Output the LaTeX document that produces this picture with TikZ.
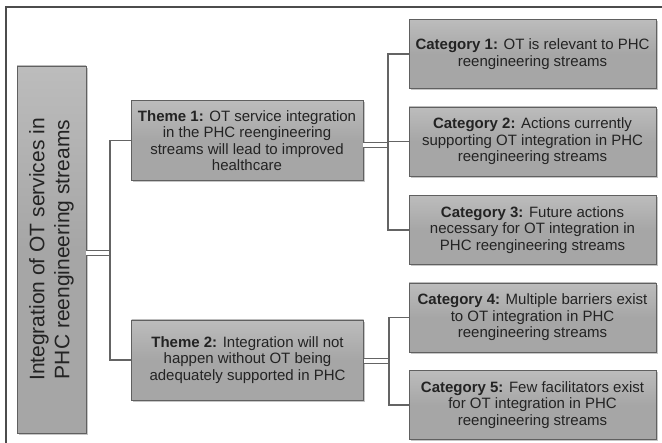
\documentclass[tikz,border=0pt]{standalone}
\usepackage{fontspec}
\setmainfont{Liberation Sans}
\usetikzlibrary{shadows}
\definecolor{boxgray}{RGB}{166,166,166}
\definecolor{linegray}{RGB}{100,100,100}
\definecolor{txtgray}{RGB}{35,35,35}

\begin{document}
\begin{tikzpicture}[x=1pt, y=-1pt, thick,
	box node/.style={draw=gray!75!black, line width=0.6pt, top color=boxgray!75, bottom color=boxgray, middle color=boxgray,
		drop shadow={shadow xshift=1.5pt, shadow yshift=-2pt, opacity=.45},
		text=txtgray, align=center, inner sep=2pt},
	main node/.style={box node, rotate=90, minimum width=367pt, minimum height=69pt,
		font=\fontsize{21}{25}\selectfont},
	theme node/.style={box node, minimum width=232pt, minimum height=80pt,
		font=\fontsize{15}{16.5}\selectfont},
	cat node/.style={box node, minimum width=247pt, minimum height=69pt,
		font=\fontsize{15}{16.5}\selectfont},
	link/.style={draw=linegray, line width=1.6pt},
	twin/.style={draw=linegray, line width=1.2pt, double=white, double distance=4pt}]
	
	\useasboundingbox (0,0) rectangle (662,443);
	% frame
	\draw[draw=gray!60!black, line width=1.4pt] (6,443) -- (6,7) -- (662,7);
	
	\node[main node] (1) at (51.5,249.5) {Integration of OT services in\\PHC reengineering streams};
	
	\node[theme node] (2) at (247,140.5) {\textbf{Theme 1:} OT service integration\\in the PHC reengineering\\streams will lead to improved\\healthcare};
	\node[theme node] (3) at (247.5,360) {\textbf{Theme 2:} Integration will not\\happen without OT being\\adequately supported in PHC};
	
	\node[cat node] (4) at (532.5,54) {\textbf{Category 1:} OT is relevant to PHC\\reengineering streams};
	\node[cat node] (5) at (532.5,141.5) {\textbf{Category 2:} Actions currently\\supporting OT integration in PHC\\reengineering streams};
	\node[cat node] (6) at (532.5,230) {\textbf{Category 3:} Future actions\\necessary for OT integration in\\PHC reengineering streams};
	\node[cat node] (7) at (532.5,317.5) {\textbf{Category 4:} Multiple barriers exist\\to OT integration in PHC\\reengineering streams};
	\node[cat node] (8) at (532.5,405) {\textbf{Category 5:} Few facilitators exist\\for OT integration in PHC\\reengineering streams};
	
	% junctions
	\coordinate (j1) at (110,253);
	\coordinate (j2) at (388,145);
	\coordinate (j3) at (389,361);
	
	\path[twin] (1.south |- j1) -- (j1)
	(2.east |- j2) -- (j2)
	(3.east |- j3) -- (j3);
	
	\path[link] (2.west) -| (j1) |- (3.west)
	(4.west) -| (j2) |- (6.west)
	(j2 |- 5.west) -- (5.west)
	(7.west) -| (j3) |- (8.west);
\end{tikzpicture}
\end{document}
